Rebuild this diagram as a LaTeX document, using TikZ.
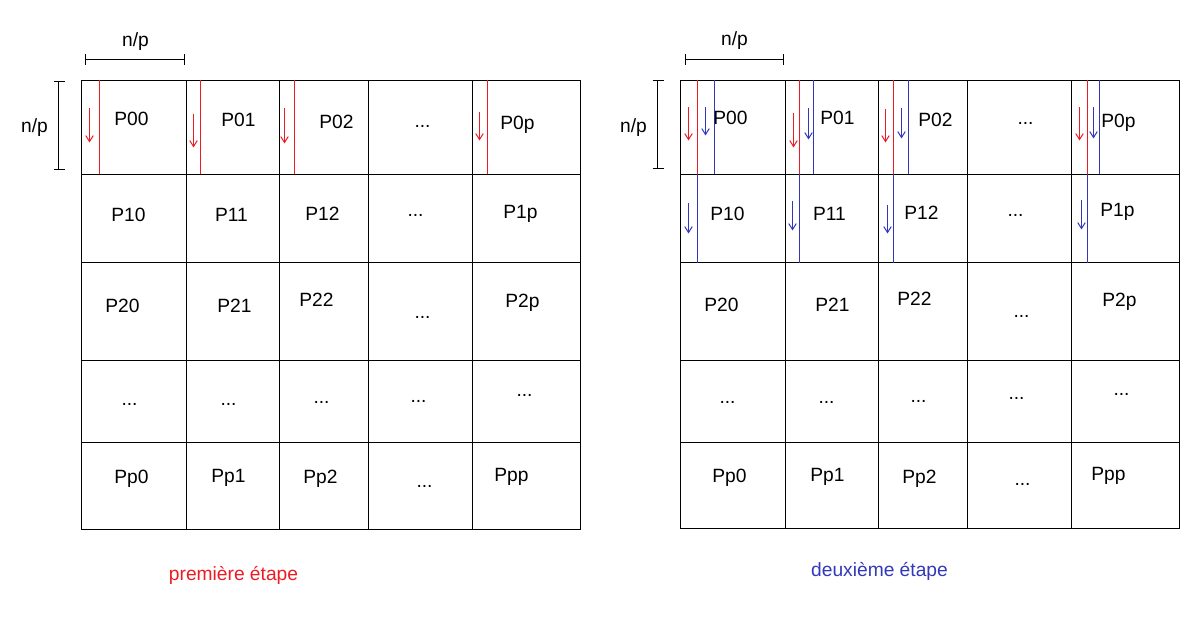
\documentclass[tikz,border=0pt]{standalone}
\usepackage{fontspec}
\setmainfont{Liberation Sans}
\usetikzlibrary{arrows.meta}
\definecolor{pred}{RGB}{237,28,36}
\definecolor{pblue}{RGB}{50,56,185}

\begin{document}
\begin{tikzpicture}[x=1pt,y=-1pt,>={Straight Barb[length=6pt,width=7.5pt]},
		lattice/.style={line width=1.1pt,black},
		cell/.style={font=\fontsize{19.2}{21}\selectfont,inner sep=0pt,anchor=base},
		redline/.style={line width=1.1pt,pred},
		blueline/.style={line width=1.1pt,pblue},
		redflow/.style={->,line width=1pt,pred},
		blueflow/.style={->,line width=1pt,pblue}]
	\useasboundingbox (-0.5,-0.5) rectangle (1189.5,627.5);

	% premiere etape
	\draw[lattice] (81,80) rectangle (580,529);
	\draw[lattice] (81,174) -- (580,174) (81,262) -- (580,262) (81,360) -- (580,360) (81,442) -- (580,442);
	\draw[lattice] (186,80) -- (186,529) (279,80) -- (279,529) (368,80) -- (368,529) (472,80) -- (472,529);

	\draw[lattice] (85,59) -- (184,59) (85,54) -- (85,65) (184,54) -- (184,65);
	\draw[lattice] (58,81) -- (58,169) (53,81) -- (64,81) (53,169) -- (64,169);
	\node[cell] (lnph) at (135,46) {n/p};
	\node[cell] (lnpv) at (34,132) {n/p};

	\draw[redline] (99,80) -- (99,174) (200,80) -- (200,174) (294,80) -- (294,174) (487,80) -- (487,174);
	\draw[redflow] (89,108) -- (89,142);
	\draw[redflow] (193,114) -- (193,147);
	\draw[redflow] (284,108) -- (284,143);
	\draw[redflow] (479,112) -- (479,140);

	\node[cell] (l00) at (131,125.3) {P00};
	\node[cell] (l01) at (238,125.7) {P01};
	\node[cell] (l02) at (336,127.7) {P02};
	\node[cell] (l0d) at (422,127) {...};
	\node[cell] (l0p) at (517,129) {P0p};
	\node[cell] (l10) at (128,220.7) {P10};
	\node[cell] (l11) at (231,220.7) {P11};
	\node[cell] (l12) at (322,219.7) {P12};
	\node[cell] (l1d) at (415,216) {...};
	\node[cell] (l1p) at (520,218.2) {P1p};
	\node[cell] (l20) at (122,311.7) {P20};
	\node[cell] (l21) at (234,311.7) {P21};
	\node[cell] (l22) at (316,305.7) {P22};
	\node[cell] (l2d) at (422,318) {...};
	\node[cell] (l2p) at (522,307) {P2p};
	\node[cell] (l30) at (129,405) {...};
	\node[cell] (l31) at (228,405) {...};
	\node[cell] (l32) at (321,403) {...};
	\node[cell] (l33) at (418,402) {...};
	\node[cell] (l34) at (524,396) {...};
	\node[cell] (lp0) at (131,483) {Pp0};
	\node[cell] (lp1) at (228,482) {Pp1};
	\node[cell] (lp2) at (320,483) {Pp2};
	\node[cell] (lpd) at (424,487) {...};
	\node[cell] (lpp) at (511,481) {Ppp};

	\node[cell,text=pred] (step1) at (233,580) {première étape};

	% deuxieme etape
	\draw[lattice] (680,80) rectangle (1179,528);
	\draw[lattice] (680,174) -- (1179,174) (680,262) -- (1179,262) (680,360) -- (1179,360) (680,442) -- (1179,442);
	\draw[lattice] (785,80) -- (785,528) (878,80) -- (878,528) (967,80) -- (967,528) (1071,80) -- (1071,528);

	\draw[lattice] (685,59) -- (783,59) (685,54) -- (685,65) (783,54) -- (783,65);
	\draw[lattice] (657,80) -- (657,168) (652,80) -- (663,80) (652,168) -- (663,168);
	\node[cell] (rnph) at (734,45) {n/p};
	\node[cell] (rnpv) at (633,132) {n/p};

	\draw[redline] (697,80) -- (697,174) (799,80) -- (799,174) (893,80) -- (893,174) (1087,80) -- (1087,174);
	\draw[blueline] (714,80) -- (714,174) (813,80) -- (813,174) (908,80) -- (908,174) (1099,80) -- (1099,174);
	\draw[blueline] (697,174) -- (697,262) (799,174) -- (799,262) (893,174) -- (893,262) (1087,174) -- (1087,262);
	\draw[redflow] (688,107) -- (688,140);
	\draw[redflow] (793,113) -- (793,147);
	\draw[redflow] (885,109) -- (885,142);
	\draw[redflow] (1079,107) -- (1079,140);
	\draw[blueflow] (705,107) -- (705,135);
	\draw[blueflow] (808,108) -- (808,139);
	\draw[blueflow] (901,108) -- (901,138);
	\draw[blueflow] (1093,107) -- (1093,138);
	\draw[blueflow] (688,203) -- (688,233);
	\draw[blueflow] (792,201) -- (792,230);
	\draw[blueflow] (887,205) -- (887,233);
	\draw[blueflow] (1081,200) -- (1081,229);

	\node[cell] (r00) at (730,124.3) {P00};
	\node[cell] (r01) at (837,123.7) {P01};
	\node[cell] (r02) at (935,125.7) {P02};
	\node[cell] (r0d) at (1025,124) {...};
	\node[cell] (r0p) at (1118,127) {P0p};
	\node[cell] (r10) at (727,220) {P10};
	\node[cell] (r11) at (829,219.7) {P11};
	\node[cell] (r12) at (921,219) {P12};
	\node[cell] (r1d) at (1015,216) {...};
	\node[cell] (r1p) at (1117,216.2) {P1p};
	\node[cell] (r20) at (721,310.7) {P20};
	\node[cell] (r21) at (832,310.7) {P21};
	\node[cell] (r22) at (914,304.7) {P22};
	\node[cell] (r2d) at (1021,317) {...};
	\node[cell] (r2p) at (1119,306) {P2p};
	\node[cell] (r30) at (727,403) {...};
	\node[cell] (r31) at (826,403) {...};
	\node[cell] (r32) at (918,402) {...};
	\node[cell] (r33) at (1016,399) {...};
	\node[cell] (r34) at (1121,395) {...};
	\node[cell] (rp0) at (729,482) {Pp0};
	\node[cell] (rp1) at (827,481) {Pp1};
	\node[cell] (rp2) at (919,483) {Pp2};
	\node[cell] (rpd) at (1022,485) {...};
	\node[cell] (rpp) at (1108,480) {Ppp};

	\node[cell,text=pblue] (step2) at (879,576) {deuxième étape};
\end{tikzpicture}
\end{document}
